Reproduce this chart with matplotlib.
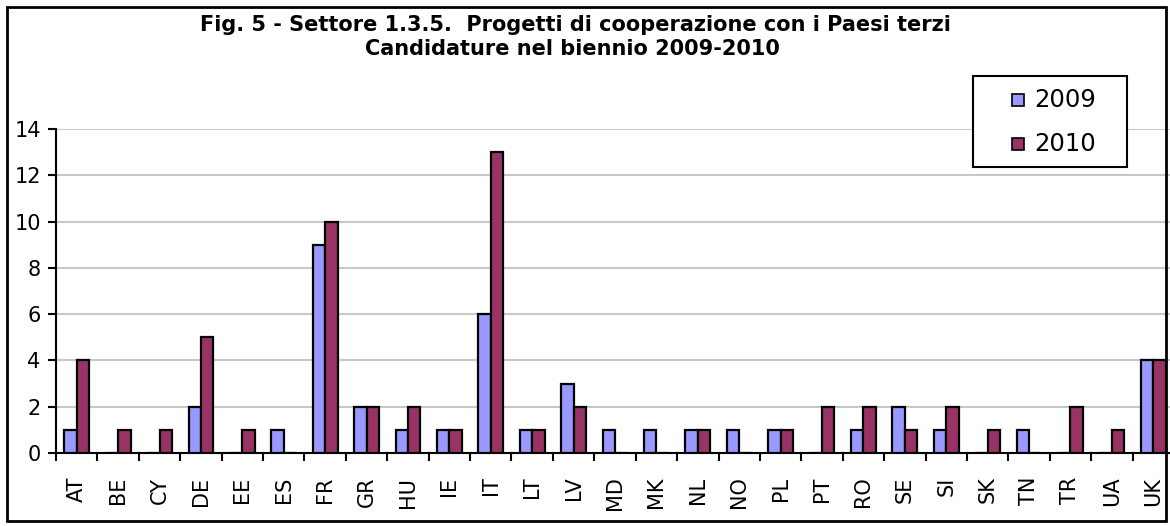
import matplotlib
matplotlib.use("Agg")
import matplotlib.pyplot as plt
from matplotlib.patches import Rectangle
import numpy as np

countries = ["AT", "BE", "CY", "DE", "EE", "ES", "FR", "GR", "HU", "IE", "IT", "LT", "LV", "MD",
             "MK", "NL", "NO", "PL", "PT", "RO", "SE", "SI", "SK", "TN", "TR", "UA", "UK"]
y2009 = [1, 0, 0, 2, 0, 1, 9, 2, 1, 1, 6, 1, 3, 1, 1, 1, 1, 1, 0, 1, 2, 1, 0, 1, 0, 0, 4]
y2010 = [4, 1, 1, 5, 1, 0, 10, 2, 2, 1, 13, 1, 2, 0, 0, 1, 0, 1, 2, 2, 1, 2, 1, 0, 2, 1, 4]
series_labels = ["2009", "2010"]
series_colors = ["#9999FF", "#993366"]
title_lines = ["Fig. 5 - Settore 1.3.5.  Progetti di cooperazione con i Paesi terzi",
               "Candidature nel biennio 2009-2010"]

plt.rcParams['font.family'] = ['DejaVu Sans']

W, H = 1170, 526
fig = plt.figure(figsize=(W / 100, H / 100), dpi=100)

left, right = 56, 1174
top, bottom = 129, 453
ax = fig.add_axes([left / W, 1 - bottom / H, (right - left) / W, (bottom - top) / H])

x = np.arange(len(countries))
bw = 0.3
ax.bar(x - bw / 2, y2009, width=bw, color=series_colors[0], edgecolor="black", linewidth=1.6,
       label=series_labels[0], zorder=3)
ax.bar(x + bw / 2, y2010, width=bw, color=series_colors[1], edgecolor="black", linewidth=1.6,
       label=series_labels[1], zorder=3)

ax.set_xlim(-0.5, len(countries) - 0.5)
ax.set_ylim(0, 14)
ax.set_yticks(np.arange(0, 15, 2))
ax.yaxis.grid(True, color="#c8c8c8", linewidth=1.5, zorder=0)
ax.set_axisbelow(True)

ax.set_xticks(x)
ax.set_xticklabels(countries, rotation=90, fontsize=15)
ax.set_xticks(np.arange(-0.5, len(countries), 1), minor=True)
ax.tick_params(axis="x", which="major", length=0, pad=17)
ax.tick_params(axis="x", which="minor", length=6, width=1.5, direction="out")
ax.tick_params(axis="y", length=6, width=1.5, labelsize=15, pad=5)

for s in ["top", "right"]:
    ax.spines[s].set_visible(False)
for s in ["left", "bottom"]:
    ax.spines[s].set_linewidth(1.5)

fig.text(575 / W, 1 - 25 / H, title_lines[0], ha="center", va="center", fontsize=15,
         fontweight="bold")
fig.text(572 / W, 1 - 49 / H, title_lines[1], ha="center", va="center", fontsize=15,
         fontweight="bold")

# legend box (Excel style)
fig.patches.append(Rectangle((973 / W, 1 - 167 / H), (1127 - 973) / W, (167 - 76) / H,
                             transform=fig.transFigure, facecolor="white", edgecolor="black",
                             linewidth=1.5, zorder=5))
for i, (lab, col) in enumerate(zip(series_labels, series_colors)):
    yc = 100 + 44 * i
    fig.patches.append(Rectangle((1012 / W, 1 - (yc + 6) / H), 12 / W, 12 / H,
                                 transform=fig.transFigure, facecolor=col, edgecolor="black",
                                 linewidth=1.2, zorder=6))
    fig.text(1034 / W, 1 - yc / H, lab, ha="left", va="center", fontsize=17.5, zorder=7)

fig.patches.append(Rectangle((7 / W, 1 - 521 / H), (1166 - 7) / W, (521 - 7) / H,
                             transform=fig.transFigure, fill=False, edgecolor="black",
                             linewidth=2, zorder=10))

fig.savefig("out.png", dpi=100)
